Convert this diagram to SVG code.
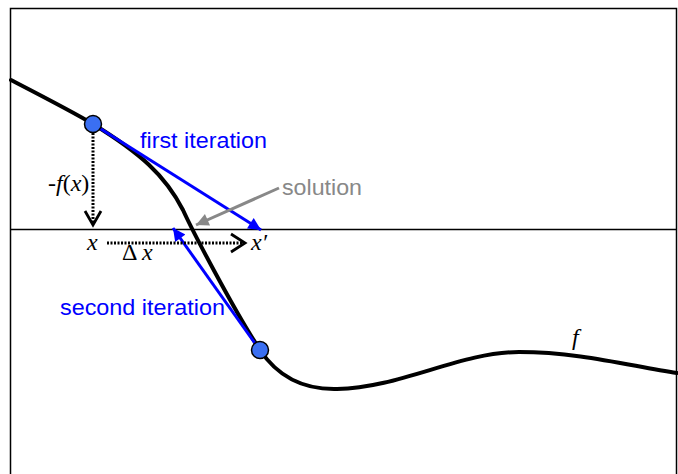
<svg xmlns="http://www.w3.org/2000/svg" width="678" height="474" viewBox="0 0 678 474">
<style>
.frame{fill:none;stroke:#000;stroke-width:1.5}
.axis{stroke:#000;stroke-width:1.5}
.curve{fill:none;stroke:#000;stroke-width:4;stroke-linecap:round}
.pt{fill:#3a6ff2;stroke:#000;stroke-width:1.5}
.tan{stroke:#0000ff;stroke-width:3}
.sol{stroke:#888;stroke-width:3}
.dot{stroke:#000;stroke-width:3;stroke-dasharray:2 1.5;fill:none}
.chev{fill:none;stroke:#000;stroke-width:2.8}
.lbl{font-family:"Liberation Sans",Arial,sans-serif;font-size:22px}
.math{font-family:"Liberation Serif","Times New Roman",serif;font-size:24px;fill:#000}
</style>
<defs>
<marker id="ab" viewBox="0 0 10 10" refX="10" refY="5" markerWidth="5.3" markerHeight="4.2" orient="auto" markerUnits="strokeWidth"><path d="M0,0 L10,5 L0,10 z" fill="#0000ff"/></marker>
<marker id="ag" viewBox="0 0 10 10" refX="10" refY="5" markerWidth="5.3" markerHeight="4.2" orient="auto" markerUnits="strokeWidth"><path d="M0,0 L10,5 L0,10 z" fill="#888"/></marker>
</defs>
<rect class="frame" x="10.5" y="8.5" width="666" height="480"/>
<line class="axis" x1="10" y1="229.5" x2="677" y2="229.5"/>
<path id="f" class="curve" d="M11,80 C40,95 75,113 93,124 C140,153 165,175 183,210 C193,232 235,312 260,350 C272,368 295,390 337,389 C400,388 460,352 519,352 C580,352 630,366 677,373"/>
<g id="connectors">
<line class="tan" x1="93" y1="124" x2="261" y2="230" marker-end="url(#ab)"/>
<line class="tan" x1="259" y1="349" x2="173" y2="228" marker-end="url(#ab)"/>
<line class="sol" x1="279" y1="188" x2="196" y2="225" marker-end="url(#ag)"/>
<line class="dot" x1="93" y1="133" x2="93" y2="224"/>
<polyline class="chev" points="85,211 93,225 101,211"/>
<line class="dot" x1="107" y1="243" x2="243" y2="243"/>
<polyline class="chev" points="231,234 245,243 231,252"/>
</g>
<g id="p1"><circle class="pt" cx="93" cy="124" r="8.5"/></g>
<g id="p2"><circle class="pt" cx="260" cy="350" r="8.5"/></g>
<g id="labels">
<text class="lbl" x="140" y="148" fill="#0000ff" textLength="127" lengthAdjust="spacingAndGlyphs">first iteration</text>
<text class="lbl" x="60" y="315" fill="#0000ff" textLength="165" lengthAdjust="spacingAndGlyphs">second iteration</text>
<text class="lbl" x="282" y="195" fill="#888" textLength="80" lengthAdjust="spacingAndGlyphs">solution</text>
<text class="math" x="48" y="191">-<tspan font-style="italic">f</tspan>(<tspan font-style="italic">x</tspan>)</text>
<text class="math" x="87" y="250" font-style="italic">x</text>
<text class="math" x="122" y="260">Δ <tspan font-style="italic">x</tspan></text>
<text class="math" x="251" y="250" font-style="italic">x′</text>
<text class="math" x="572" y="345" font-style="italic">f</text>
</g>
</svg>
